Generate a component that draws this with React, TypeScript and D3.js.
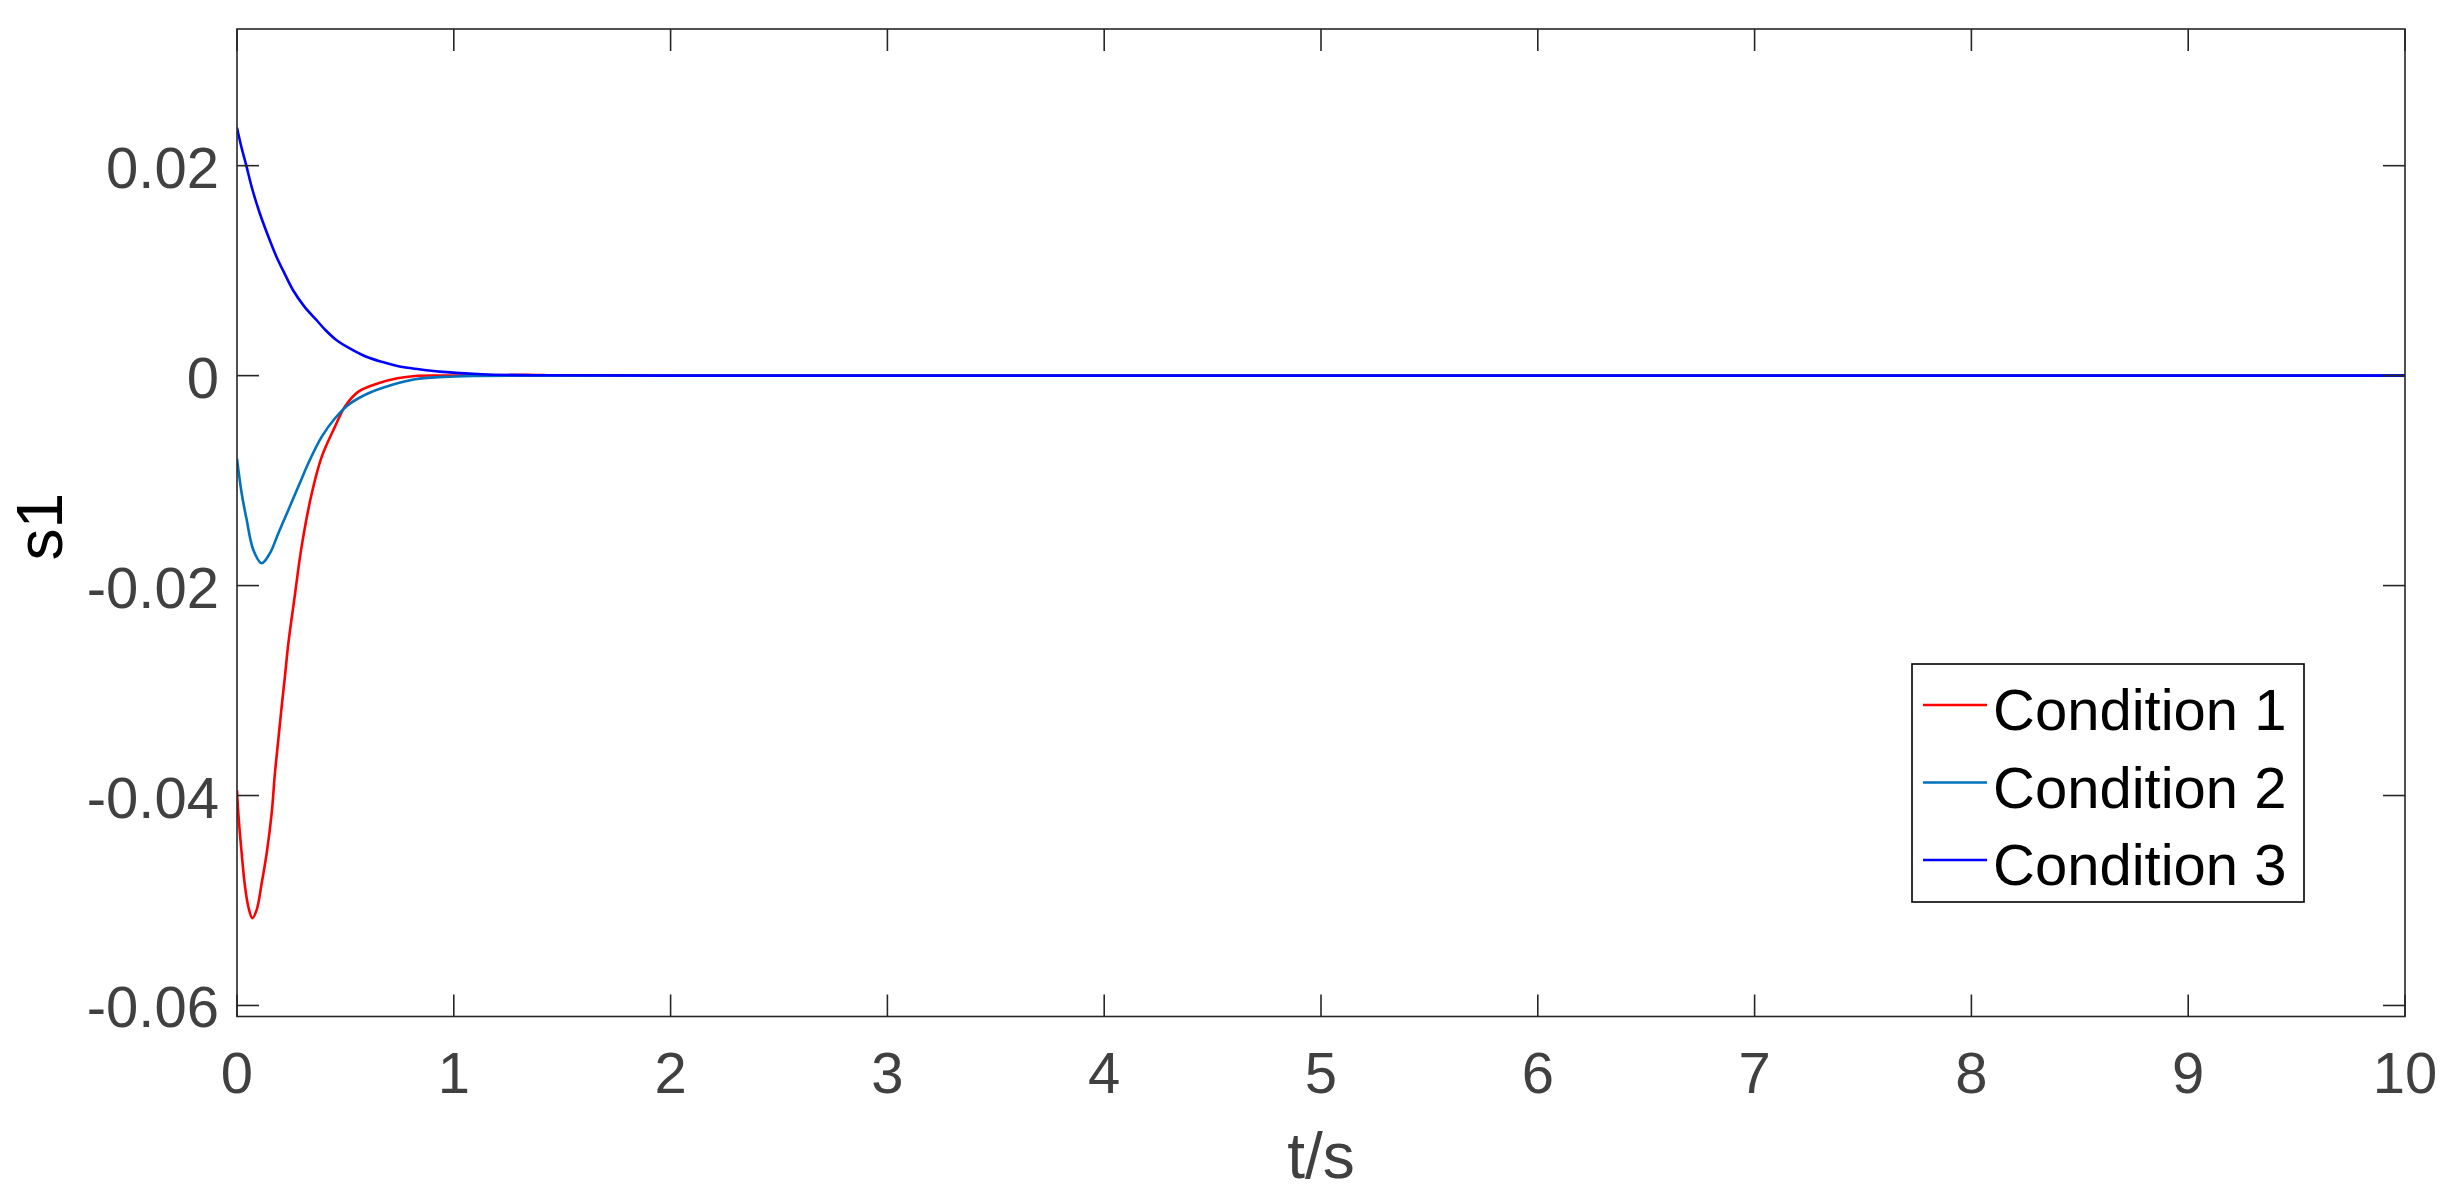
import React, { useEffect } from "react";
import * as d3 from "d3";

// values
const tCond1 = [0, 0.006, 0.0215, 0.037, 0.052, 0.0707, 0.0907, 0.114, 0.137, 0.16, 0.175, 0.1905, 0.206, 0.221, 0.237, 0.264, 0.298, 0.345, 0.391, 0.452, 0.498, 0.56, 0.652, 0.74, 0.821, 1.0, 1.2, 1.33, 1.5, 2, 3, 4, 5, 6, 7, 8, 9, 10];
const sCond1 = [-0.0395, -0.04168, -0.04549, -0.04867, -0.05057, -0.05168, -0.05089, -0.04834, -0.04549, -0.04168, -0.03787, -0.0347, -0.03152, -0.02867, -0.02549, -0.02136, -0.01629, -0.0112, -0.00771, -0.00486, -0.00295, -0.00152, -0.00072, -0.00025, -0.00003, 0, 0.00003, 0.00008, 0, 0, 0, 0, 0, 0, 0, 0, 0, 0];

const tCond2 = [0, 0.0215, 0.0447, 0.0753, 0.114, 0.152, 0.1907, 0.237, 0.283, 0.329, 0.391, 0.452, 0.513, 0.606, 0.713, 0.821, 0.95, 1.1, 1.4, 2, 3, 4, 5, 6, 7, 8, 9, 10];
const sCond2 = [-0.0079, -0.0112, -0.01374, -0.0166, -0.01787, -0.01691, -0.01501, -0.01279, -0.01057, -0.00834, -0.00581, -0.00406, -0.00279, -0.00168, -0.00089, -0.00034, -0.00012, -0.00003, 0, 0, 0, 0, 0, 0, 0, 0, 0, 0];

const tCond3 = [0, 0.02, 0.043, 0.07, 0.105, 0.14, 0.182, 0.22, 0.258, 0.31, 0.366, 0.41, 0.458, 0.52, 0.597, 0.67, 0.75, 0.84, 0.935, 1.13, 1.4, 2, 3, 4, 5, 6, 7, 8, 9, 10];
const sCond3 = [0.02362, 0.0218, 0.02, 0.0178, 0.01547, 0.0135, 0.01133, 0.0097, 0.00816, 0.0066, 0.0053, 0.0043, 0.0034, 0.0026, 0.0018, 0.0013, 0.00086, 0.0006, 0.00038, 0.00013, 0.00003, 0, 0, 0, 0, 0, 0, 0, 0, 0];

const seriesNames = ["Condition 1", "Condition 2", "Condition 3"];
const seriesColors = ["#ff0000", "#0072bd", "#0000ff"];

const xTicks = [0, 1, 2, 3, 4, 5, 6, 7, 8, 9, 10];
const yTicks = [0.02, 0, -0.02, -0.04, -0.06];

const width = 2453;
const height = 1191;
const margin = { left: 237, right: 2405, top: 29, bottom: 1016.5 };
const font = "'Liberation Sans', Arial, Helvetica, sans-serif";
const axisColor = "#262626";
const tickLen = 22;

const App = () => {
  useEffect(() => {
    document.body.style.margin = "0";
  }, []);

  const x = d3.scaleLinear().domain([0, 10]).range([margin.left, margin.right]);
  const y = d3
    .scaleLinear()
    .domain([-0.06105, 0.03302])
    .range([margin.bottom, margin.top]);

  const line = d3
    .line<[number, number]>()
    .x(d => x(d[0]))
    .y(d => y(d[1]))
    .curve(d3.curveCatmullRom.alpha(0.5));

  const series = [
    tCond1.map((t, i) => [t, sCond1[i]] as [number, number]),
    tCond2.map((t, i) => [t, sCond2[i]] as [number, number]),
    tCond3.map((t, i) => [t, sCond3[i]] as [number, number])
  ];

  const fmtY = (v: number) => (v === 0 ? "0" : v.toFixed(2));

  const legend = { x: 1912, y: 664, w: 392, h: 238, row: 77.5, first: 705 };

  return (
    <svg
      width={width}
      height={height}
      style={{ position: "absolute", left: 0, top: 0, background: "#fff" }}
    >
      <defs>
        <clipPath id="plot-clip">
          <rect
            x={margin.left}
            y={margin.top}
            width={margin.right - margin.left}
            height={margin.bottom - margin.top}
          />
        </clipPath>
      </defs>
      <rect width={width} height={height} fill="#fff" />

      <g clipPath="url(#plot-clip)">
        {series.map((pts, i) => (
          <path
            key={seriesNames[i]}
            d={line(pts) || ""}
            fill="none"
            stroke={seriesColors[i]}
            strokeWidth={2.6}
            strokeLinejoin="round"
          />
        ))}
      </g>

      {/* box */}
      <rect
        x={margin.left}
        y={margin.top}
        width={margin.right - margin.left}
        height={margin.bottom - margin.top}
        fill="none"
        stroke={axisColor}
        strokeWidth={1.6}
      />

      {/* x ticks */}
      {xTicks.map(t => (
        <g key={"xt" + t}>
          <line x1={x(t)} x2={x(t)} y1={margin.bottom} y2={margin.bottom - tickLen} stroke={axisColor} strokeWidth={1.6} />
          <line x1={x(t)} x2={x(t)} y1={margin.top} y2={margin.top + tickLen} stroke={axisColor} strokeWidth={1.6} />
          <text
            x={x(t)}
            y={1092.5}
            textAnchor="middle"
            fontFamily={font}
            fontSize={58}
            fill="#404040"
          >
            {t}
          </text>
        </g>
      ))}

      {/* y ticks */}
      {yTicks.map(v => (
        <g key={"yt" + v}>
          <line x1={margin.left} x2={margin.left + tickLen} y1={y(v)} y2={y(v)} stroke={axisColor} strokeWidth={1.6} />
          <line x1={margin.right} x2={margin.right - tickLen} y1={y(v)} y2={y(v)} stroke={axisColor} strokeWidth={1.6} />
          <text
            x={219}
            y={y(v) + 22}
            textAnchor="end"
            fontFamily={font}
            fontSize={58}
            fill="#404040"
          >
            {fmtY(v)}
          </text>
        </g>
      ))}

      {/* axis labels */}
      <text
        x={(margin.left + margin.right) / 2}
        y={1178}
        textAnchor="middle"
        fontFamily={font}
        fontSize={64}
        fill="#404040"
      >
        t/s
      </text>
      <text
        transform={`translate(62, ${(margin.top + margin.bottom) / 2 + 4}) rotate(-90)`}
        textAnchor="middle"
        fontFamily={font}
        fontSize={64}
        fill="#000"
      >
        s1
      </text>

      {/* legend */}
      <rect
        x={legend.x}
        y={legend.y}
        width={legend.w}
        height={legend.h}
        fill="#fff"
        stroke="#000"
        strokeWidth={1.6}
      />
      {seriesNames.map((name, i) => {
        const cy = legend.first + i * legend.row;
        return (
          <g key={"lg" + name}>
            <line x1={1923} x2={1987} y1={cy} y2={cy} stroke={seriesColors[i]} strokeWidth={2.6} />
            <text x={1993} y={cy + 25} fontFamily={font} fontSize={58} fill="#000">
              {name}
            </text>
          </g>
        );
      })}
    </svg>
  );
};

export default App;
